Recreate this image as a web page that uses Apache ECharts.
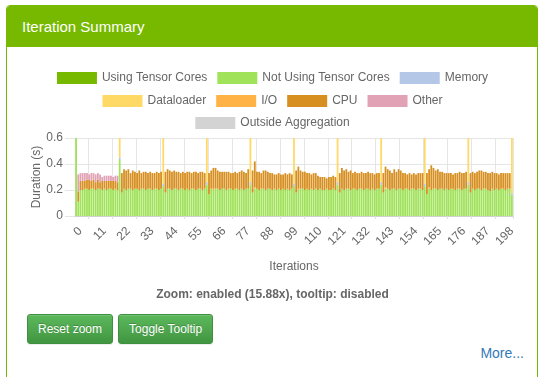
<!DOCTYPE html>
<html>
<head>
<meta charset="utf-8">
<title>Iteration Summary</title>
<script src="https://cdn.jsdelivr.net/npm/echarts@6/dist/echarts.min.js"></script>
<style>
    body { margin: 0; background: #fff; font-family: "Liberation Sans", Arial, sans-serif; }
    .panel { position: absolute; left: 6px; top: 5px; width: 530px; height: 420px;
             border: 1px solid #76b900; border-radius: 4px; background: #fff; }
    .panel-heading { height: 41px; background: #76b900; color: #fff; font-size: 15px;
                     line-height: 41px; padding-left: 15px; border-radius: 3px 3px 0 0; }
    #chart { position: absolute; left: 0; top: 0; width: 545px; height: 290px; }
    .status { position: absolute; left: 0; width: 545px; top: 287px; text-align: center;
              font-size: 12px; font-weight: bold; color: #666; }
    .btns { position: absolute; left: 27px; top: 314px; }
    .btn { display: inline-block; margin-right: 5px; padding: 5px 10px; font-size: 12px; line-height: 18px;
           color: #fff; border: 1px solid #3e8f3e; border-radius: 3px;
           background-image: linear-gradient(to bottom, #5cb85c 0, #419641 100%);
           text-shadow: 0 -1px 0 rgba(0,0,0,.2);
           box-shadow: inset 0 1px 0 rgba(255,255,255,.15), 0 1px 1px rgba(0,0,0,.075); }
    .more { position: absolute; right: 21px; top: 345px; font-size: 14px; color: #337ab7; }
</style>
</head>
<body>
<div class="panel"><div class="panel-heading">Iteration Summary</div></div>
<div id="chart"></div>
<div class="status">Zoom: enabled (15.88x), tooltip: disabled</div>
<div class="btns"><span class="btn">Reset zoom</span><span class="btn">Toggle Tooltip</span></div>
<div class="more">More...</div>
<script>
    var seriesNames = ['Using Tensor Cores', 'Not Using Tensor Cores', 'Memory', 'Dataloader',
                       'I/O', 'CPU', 'Other', 'Outside Aggregation'];
    var seriesColors = ['#76b900', '#a0e25a', '#b4c7e7', '#ffd966', '#ffb347', '#d68f20', '#e0a2b4', '#d3d3d3'];

    // Not Using Tensor Cores (s), iterations 0..200
    var notTensor = [
        0.60,0.11,0.20,0.20,0.21,0.21,0.20,0.21,0.21,0.20,0.21,0.21,0.20,0.21,0.20,0.21,0.21,0.20,0.21,0.20,0.43,
        0.18,0.21,0.20,0.21,0.21,0.20,0.21,0.21,0.20,0.21,0.21,0.20,0.21,0.21,0.20,0.21,0.21,0.20,0.21,0.23,
        0.18,0.21,0.21,0.20,0.21,0.21,0.20,0.21,0.21,0.20,0.21,0.20,0.21,0.21,0.20,0.21,0.21,0.20,0.21,0.24,
        0.17,0.21,0.20,0.21,0.21,0.20,0.21,0.21,0.20,0.21,0.21,0.20,0.21,0.21,0.20,0.21,0.20,0.21,0.21,0.24,
        0.18,0.21,0.21,0.20,0.21,0.21,0.20,0.21,0.21,0.20,0.21,0.20,0.21,0.20,0.21,0.20,0.21,0.20,0.21,0.23,
        0.18,0.20,0.21,0.21,0.20,0.21,0.20,0.21,0.20,0.21,0.20,0.21,0.20,0.20,0.21,0.20,0.20,0.21,0.20,0.24,
        0.18,0.21,0.20,0.21,0.21,0.20,0.21,0.21,0.20,0.21,0.21,0.20,0.21,0.21,0.20,0.21,0.20,0.21,0.21,0.24,
        0.18,0.21,0.21,0.20,0.21,0.21,0.20,0.21,0.21,0.20,0.21,0.21,0.20,0.21,0.21,0.20,0.21,0.21,0.20,0.23,
        0.17,0.21,0.20,0.21,0.21,0.20,0.21,0.21,0.20,0.21,0.20,0.21,0.21,0.20,0.21,0.21,0.20,0.21,0.21,0.24,
        0.18,0.21,0.20,0.21,0.21,0.20,0.21,0.21,0.20,0.19,0.21,0.20,0.21,0.20,0.21,0.21,0.20,0.21,0.21,0.16
    ];
    // CPU (s)
    var cpu = [
        0,0.08,0.07,0.07,0.06,0.07,0.08,0.06,0.07,0.06,0.07,0.05,0.07,0.06,0.07,0.06,0.06,0.07,0.06,0.06,0,
        0.15,0.15,0.15,0.15,0.12,0.15,0.13,0.12,0.15,0.12,0.13,0.14,0.12,0.13,0.13,0.12,0.13,0.13,0.13,0,
        0.16,0.15,0.14,0.14,0.14,0.13,0.14,0.12,0.13,0.13,0.13,0.14,0.12,0.13,0.14,0.12,0.13,0.14,0.12,0,
        0.16,0.14,0.16,0.16,0.14,0.14,0.13,0.13,0.14,0.13,0.12,0.13,0.13,0.12,0.14,0.14,0.14,0.12,0.15,0,
        0.17,0.20,0.13,0.14,0.12,0.14,0.15,0.13,0.12,0.13,0.11,0.12,0.12,0.12,0.11,0.13,0.11,0.13,0.11,0,
        0.17,0.17,0.14,0.13,0.14,0.12,0.13,0.11,0.13,0.12,0.11,0.09,0.10,0.10,0.08,0.10,0.10,0.10,0.10,0,
        0.15,0.16,0.15,0.15,0.13,0.15,0.12,0.13,0.13,0.12,0.13,0.13,0.12,0.13,0.13,0.12,0.12,0.12,0.12,0,
        0.15,0.16,0.15,0.15,0.12,0.15,0.14,0.15,0.14,0.13,0.12,0.11,0.13,0.11,0.12,0.12,0.12,0.12,0.13,0,
        0.16,0.14,0.19,0.16,0.14,0.16,0.13,0.13,0.13,0.12,0.13,0.12,0.11,0.13,0.12,0.13,0.13,0.12,0.13,0,
        0.15,0.13,0.13,0.13,0.14,0.15,0.13,0.13,0.13,0.14,0.13,0.13,0.12,0.12,0.12,0.12,0.13,0.12,0.12,0
    ];
    // Other (s), only the first iterations have it
    var otherHead = [0,0.13,0.06,0.06,0.06,0.05,0.04,0.06,0.05,0.06,0.05,0.06,0.03,0.04,0.04,0.04,0.04,0.03,0.04,0.05,0];
    // iterations with a dataloader stall
    var stallIters = [20, 40, 60, 80, 100, 120, 140, 160, 180, 200];
    var stallMemory = [0.02, 0.02, 0.02, 0.02, 0.02, 0.02, 0.02, 0.02, 0.02, 0.015];
    var stallLoader = [0.45, 0.45, 0.45, 0.45, 0.45, 0.45, 0.45, 0.45, 0.45, 0.45];
    // small I/O pieces [iteration, seconds]
    var ioPieces = [[63, 0.01], [82, 0.01], [102, 0.01], [142, 0.01], [162, 0.01]];

    var iterations = [];
    for (var i = 0; i < notTensor.length; i++) iterations.push(String(i));

    function zeros() {
        var a = [];
        for (var i = 0; i < iterations.length; i++) a.push(0);
        return a;
    }
    var tensor = zeros(), memory = zeros(), loader = zeros(), io = zeros(), other = zeros(), outside = zeros();
    stallIters.forEach(function(it, k){ memory[it] = stallMemory[k]; loader[it] = stallLoader[k]; });
    ioPieces.forEach(function(p){ io[p[0]] = p[1]; });
    otherHead.forEach(function(v, k){ other[k] = v; });
    var values = [tensor, notTensor, memory, loader, io, cpu, other, outside];

    var font = '"Liberation Sans", Arial, sans-serif';
    var legendBase = {
        left: 'center', icon: 'rect', itemWidth: 40, itemHeight: 12, itemGap: 10,
        textStyle: { color: '#666', fontSize: 12, fontFamily: font }
    };
    var gridEvery11 = function(i){ return i >= 6 && (i - 6) % 11 === 0; };

    var myChart = echarts.init(document.getElementById('chart'));
    var option = {
        animation: false,
        textStyle: { fontFamily: font },
        color: seriesColors,
        legend: [
            Object.assign({ top: 67, data: seriesNames.slice(0, 3) }, legendBase),
            Object.assign({ top: 90, data: seriesNames.slice(3, 7) }, legendBase),
            Object.assign({ top: 112, data: seriesNames.slice(7) }, legendBase)
        ],
        grid: { left: 75, right: 32, top: 138, bottom: 74 },
        xAxis: {
            type: 'category',
            data: iterations,
            name: 'Iterations',
            nameLocation: 'middle',
            nameGap: 45,
            nameTextStyle: { color: '#666', fontSize: 12 },
            axisLine: { lineStyle: { color: '#d0d0d0' } },
            axisTick: { show: true, length: 3, interval: gridEvery11, lineStyle: { color: '#e0e0e0' } },
            splitLine: { show: true, interval: gridEvery11, lineStyle: { color: '#e5e5e5' } },
            axisLabel: { interval: 10, rotate: 45, color: '#666', fontSize: 12, margin: 9, verticalAlign: 'top' }
        },
        yAxis: {
            type: 'value',
            min: 0, max: 0.6, interval: 0.2,
            name: 'Duration (s)',
            nameLocation: 'middle',
            nameGap: 32,
            nameMoveOverlap: false,
            nameTextStyle: { color: '#666', fontSize: 12 },
            axisLine: { show: true, lineStyle: { color: '#e5e5e5' } },
            axisTick: { show: true, length: 10, lineStyle: { color: '#e5e5e5' } },
            splitLine: { lineStyle: { color: '#e5e5e5' } },
            axisLabel: { color: '#666', fontSize: 12, margin: 12 }
        },
        series: seriesNames.map(function(name, k){
            return {
                name: name,
                type: 'bar',
                stack: 'total',
                barCategoryGap: '18%',
                data: values[k]
            };
        })
    };
    myChart.setOption(option);
</script>
</body>
</html>
